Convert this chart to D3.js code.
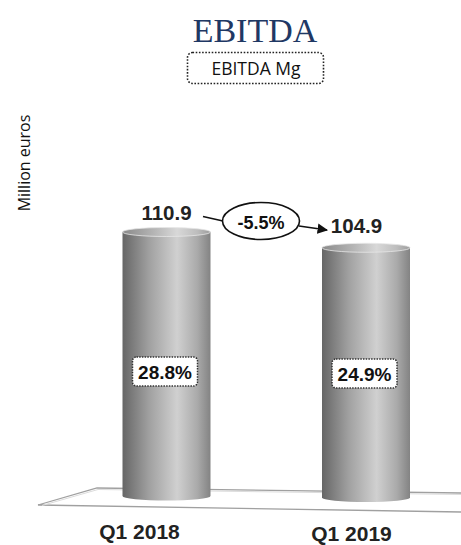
<!DOCTYPE html>
<html><head><meta charset="utf-8">
<script src="https://cdn.jsdelivr.net/npm/d3@7"></script>
<style>html,body{margin:0;padding:0;background:#fff;}svg{display:block;}</style>
</head><body>
<script>
const categories = ["Q1 2018", "Q1 2019"];
const values = [110.9, 104.9];
const valueLabels = ["110.9", "104.9"];
const margins = [28.8, 24.9];
const marginLabels = ["28.8%", "24.9%"];
const changeLabel = "-5.5%";
const titleText = "EBITDA";
const subtitleText = "EBITDA Mg";
const yLabel = "Million euros";

const W = 461, H = 545;
const svg = d3.select("body").append("svg").attr("width", W).attr("height", H);
const defs = svg.append("defs");

const bodyGrad = defs.append("linearGradient").attr("id", "cyl").attr("x1", "0").attr("x2", "1").attr("y1", "0").attr("y2", "0");
[[0, "#666666"], [0.3, "#a0a0a0"], [0.62, "#d0d0d0"], [0.85, "#aaaaaa"], [1, "#838383"]].forEach(s =>
  bodyGrad.append("stop").attr("offset", s[0]).attr("stop-color", s[1]));
const topGrad = defs.append("linearGradient").attr("id", "cyltop").attr("x1", "0").attr("x2", "1").attr("y1", "0").attr("y2", "0");
[[0, "#8a8a8a"], [0.35, "#b4b4b4"], [0.62, "#d8d8d8"], [0.85, "#bdbdbd"], [1, "#9c9c9c"]].forEach(s =>
  topGrad.append("stop").attr("offset", s[0]).attr("stop-color", s[1]));
defs.append("marker").attr("id", "arrow").attr("viewBox", "0 0 10 10").attr("refX", 9).attr("refY", 5)
  .attr("markerWidth", 7).attr("markerHeight", 7).attr("orient", "auto")
  .append("path").attr("d", "M0,0 L10,5 L0,10 z").attr("fill", "#111");

// scales
const x = d3.scalePoint().domain(categories).range([166.5, 366]);
const xLab = d3.scalePoint().domain(categories).range([139.5, 351.5]);
const baseY = d3.scaleLinear().domain([166.5, 366]).range([496, 497.5]);
const h = d3.scaleLinear().domain([0, 110.9]).range([0, 264]);
const bw = 88, ry = 4.5;

// title
svg.append("text").attr("x", 255).attr("y", 42).attr("text-anchor", "middle")
  .attr("font-family", "'Liberation Serif', serif").attr("font-size", 34).attr("fill", "#1f3864").text(titleText);
svg.append("rect").attr("x", 187.5).attr("y", 52.5).attr("width", 136).attr("height", 31).attr("rx", 5)
  .attr("fill", "#fff").attr("stroke", "#222").attr("stroke-width", 1.6).attr("stroke-dasharray", "1.6,1.6");
svg.append("text").attr("x", 256).attr("y", 74.5).attr("text-anchor", "middle")
  .attr("font-family", "'Open Sans', sans-serif").attr("font-size", 17.5).attr("fill", "#111").text(subtitleText);

// y label
svg.append("text").attr("transform", "translate(30,163) rotate(-90)").attr("text-anchor", "middle")
  .attr("font-family", "'Open Sans', sans-serif").attr("font-size", 16).attr("fill", "#111").text(yLabel);

// floor
const floor = svg.append("g").attr("fill", "none").attr("stroke", "#a0a0a0").attr("stroke-width", 1.3);
floor.append("path").attr("d", "M461,493 L97,488 L38,505 L461,512");
floor.append("path").attr("d", "M461,494.5 L98,489.5 L42,505.5").attr("stroke", "#dcdcdc").attr("stroke-width", 1);

// cylinders
const g = svg.append("g");
categories.forEach((c, i) => {
  const cx = x(c), by = baseY(cx), ty = by - h(values[i]);
  g.append("path")
    .attr("d", `M${cx - bw / 2},${ty} L${cx - bw / 2},${by} A${bw / 2},${ry} 0 0 0 ${cx + bw / 2},${by} L${cx + bw / 2},${ty} Z`)
    .attr("fill", "url(#cyl)");
  g.append("ellipse").attr("cx", cx).attr("cy", ty).attr("rx", bw / 2).attr("ry", ry)
    .attr("fill", "url(#cyltop)").attr("stroke", "#e6e6e6").attr("stroke-width", 0.8);
});

// value labels
const valY = [220, 233];
const valX = [166.5, 356.5];
categories.forEach((c, i) => {
  svg.append("text").attr("x", valX[i]).attr("y", valY[i]).attr("text-anchor", "middle")
    .attr("font-family", "'Liberation Sans', Arial, sans-serif").attr("font-weight", "bold")
    .attr("font-size", 20.5).attr("fill", "#222").text(valueLabels[i]);
});

// change ellipse + connectors
svg.append("line").attr("x1", 203).attr("y1", 216.5).attr("x2", 223).attr("y2", 221)
  .attr("stroke", "#111").attr("stroke-width", 1.5);
svg.append("line").attr("x1", 299).attr("y1", 226).attr("x2", 327).attr("y2", 230)
  .attr("stroke", "#111").attr("stroke-width", 1.5).attr("marker-end", "url(#arrow)");
svg.append("ellipse").attr("cx", 261).attr("cy", 221).attr("rx", 38.5).attr("ry", 18.5)
  .attr("fill", "#fff").attr("stroke", "#111").attr("stroke-width", 1.6);
svg.append("text").attr("x", 261).attr("y", 228.5).attr("text-anchor", "middle")
  .attr("font-family", "'Liberation Sans', Arial, sans-serif").attr("font-weight", "bold")
  .attr("font-size", 18).attr("fill", "#111").text(changeLabel);

// margin boxes
const boxY = [357, 359];
categories.forEach((c, i) => {
  const cx = x(c) - 1.5;
  svg.append("rect").attr("x", cx - 32.5).attr("y", boxY[i]).attr("width", 65).attr("height", 29).attr("rx", 4)
    .attr("fill", "#fff").attr("stroke", "#333").attr("stroke-width", 1.5).attr("stroke-dasharray", "1.5,1.2");
  svg.append("text").attr("x", cx).attr("y", boxY[i] + 22).attr("text-anchor", "middle")
    .attr("font-family", "'Liberation Sans', Arial, sans-serif").attr("font-weight", "bold")
    .attr("font-size", 19).attr("fill", "#111").text(marginLabels[i]);
});

// category labels
const catY = [539, 541];
categories.forEach((c, i) => {
  svg.append("text").attr("x", xLab(c)).attr("y", catY[i]).attr("text-anchor", "middle")
    .attr("font-family", "'Liberation Sans', Arial, sans-serif").attr("font-weight", "bold")
    .attr("font-size", 21).attr("fill", "#222").text(c);
});
</script>
</body></html>
